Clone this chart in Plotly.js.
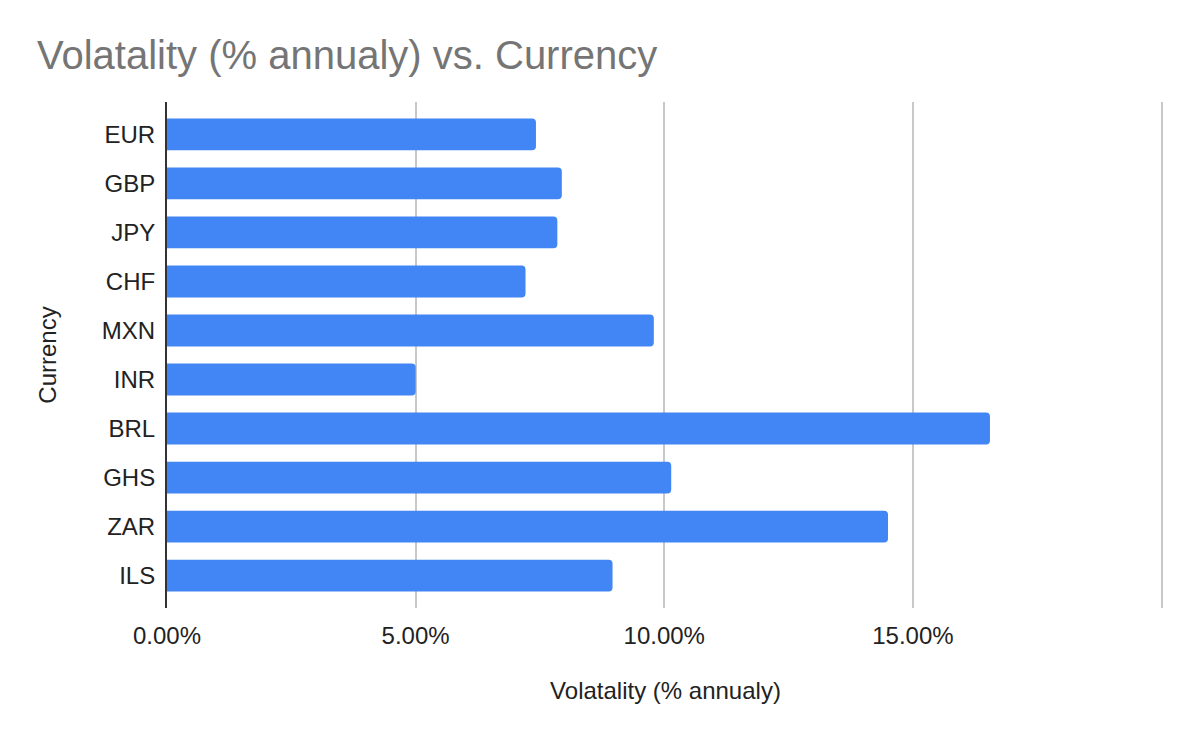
<!DOCTYPE html>
<html>
<head>
<meta charset="utf-8">
<script src="https://cdn.plot.ly/plotly-3.0.1.min.js"></script>
<style>html,body{margin:0;padding:0;background:#fff}#chart{width:1200px;height:742px}</style>
</head>
<body>
<div id="chart"></div>
<script>
const currencies = ["EUR","GBP","JPY","CHF","MXN","INR","BRL","GHS","ZAR","ILS"];
const volatility = [0.0742,0.0794,0.0785,0.0721,0.0979,0.0500,0.1655,0.1014,0.1450,0.0896];
const xTickVals = [0,0.05,0.10,0.15,0.20];
const xTickText = ["0.00%","5.00%","10.00%","15.00%",""];

const trace = {
  type: 'bar',
  orientation: 'h',
  y: currencies,
  x: volatility,
  marker: {color: '#4285F4', cornerradius: 4},
  width: 0.65,
  hoverinfo: 'x+y'
};

const layout = {
  width: 1200, height: 742,
  paper_bgcolor: '#fff', plot_bgcolor: '#fff',
  font: {family: 'Liberation Sans, Arial, sans-serif', color: '#222'},
  margin: {l: 167, r: 36, t: 102, b: 134},
  title: {
    text: 'Volatality (% annualy) vs. Currency',
    font: {size: 40, color: '#757575'},
    x: 0, xref: 'paper', xanchor: 'left',
    y: 1, yref: 'container', yanchor: 'top', pad: {t: 41, l: -130}
  },
  xaxis: {
    range: [0, 0.2005],
    tickvals: xTickVals,
    ticktext: xTickText,
    showgrid: true, gridcolor: '#c8c8c8', gridwidth: 2,
    zeroline: false, showline: false,
    ticks: 'outside', ticklen: 6, tickcolor: 'rgba(0,0,0,0)',
    tickfont: {size: 24, color: '#222'},
    title: {text: 'Volatality (% annualy)', font: {size: 24, color: '#222'}, standoff: 34}
  },
  yaxis: {
    type: 'category',
    range: [9.66, -0.66],
    showgrid: false, zeroline: false,
    showline: true, linecolor: '#333', linewidth: 2,
    ticks: 'outside', ticklen: 5, tickcolor: 'rgba(0,0,0,0)',
    tickfont: {size: 24, color: '#222'},
    title: {text: 'Currency', font: {size: 24, color: '#222'}, standoff: 38}
  },
  showlegend: false
};

Plotly.newPlot('chart', [trace], layout, {displayModeBar: false, staticPlot: true});
</script>
</body>
</html>
